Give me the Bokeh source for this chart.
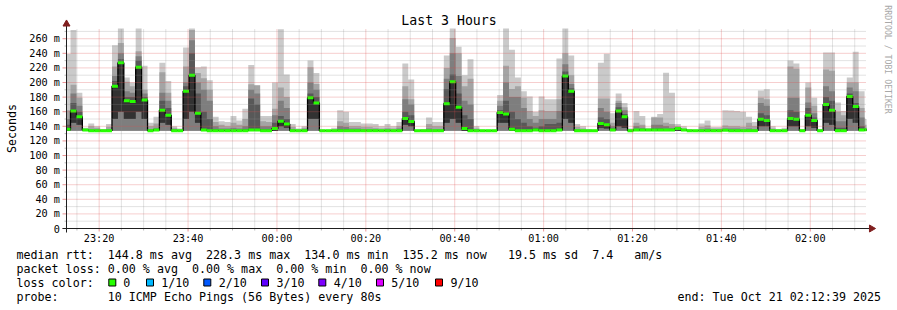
import math
import numpy as np
from bokeh.plotting import figure
from bokeh.models import Range1d
from bokeh.core.properties import value
from bokeh.embed import file_html
from bokeh.resources import INLINE

# ---------------------------------------------------------------- data
TITLE = "Last 3 Hours"
Y_UNIT_LABEL = "Seconds"
WATERMARK = "RRDTOOL / TOBI OETIKER"
STEP_SECONDS = 80
FIRST_STEP_START = "23:12:13"
VIEW_START = "23:12:39"
VIEW_END = "02:12:39"
Y_MAX_MS = 274
RTT_FLOOR_MS = 134.0

# median rtt per 80 s step (ms)
median_ms = [
    136, 161, 153, 135, 134, 134, 134, 134, 195, 227,
    175, 174, 221, 176, 134, 135, 162, 155, 134, 134,
    188, 210, 158, 135, 134, 134, 134, 134, 134, 134,
    134, 135, 135, 134, 134, 137, 147, 143, 134, 134,
    134, 179, 172, 134, 134, 134, 134, 134, 134, 134,
    134, 134, 134, 134, 134, 134, 134, 150.6, 146.5, 134,
    134, 134, 134, 134, 171, 201, 166, 137, 134, 134,
    134, 134, 134, 159, 157, 136, 134, 134, 134, 135,
    134, 134, 134, 135, 209, 188, 134, 134, 134, 134,
    144, 142, 135, 161, 153, 134, 135, 135, 135, 135,
    135, 135, 135, 137, 135, 134, 134, 134, 134, 134,
    134, 134.5, 134, 134, 134, 134, 134, 149.7, 148, 134,
    134, 134, 150.6, 149.7, 134, 155, 148, 134, 170, 162,
    134, 134, 180.7, 167, 135, 135.2]

# slowest ping per step (top of smoke)
ping_max_ms = [
    239, 272, 186, 138, 144, 140, 136, 143, 251, 274,
    207, 200, 274, 223, 145, 153, 227, 202, 140, 137,
    248, 274, 221, 222, 203, 153, 147, 146, 154, 148,
    164, 224, 196.5, 154, 154, 200, 273, 211, 143, 137,
    140, 230, 213, 135.5, 135.5, 138, 162, 160, 146, 146,
    144, 144, 143, 140, 143, 140, 146, 226, 204, 135.5,
    136, 152, 146, 146, 237, 274, 249, 210, 232, 140,
    135.5, 135.5, 135.5, 183, 274, 245, 207, 188, 181, 160,
    181, 177, 177, 233, 274, 237, 143, 140, 136, 135.5,
    227, 239.5, 158, 185, 172, 137, 161, 154, 138, 153,
    157, 213.5, 186, 143, 140, 136, 135.5, 144, 148, 139,
    139, 162, 161.5, 161, 160, 153, 146, 189, 190.7, 140,
    136, 138, 230, 226, 136, 200, 179, 136, 241, 241,
    172.5, 161, 206.7, 242, 188, 150]

# 9th of 10 sorted pings
ping_9_ms = [
    162, 197, 179, 137, 140, 138, 135.5, 139, 222, 254,
    201, 195, 243, 190, 140, 144, 214, 186, 138, 136,
    222, 272, 213, 206, 190, 146, 142, 140, 145, 142,
    150, 197.5, 196, 147, 146, 164, 193, 180, 139, 136,
    138, 221, 198, 135, 135, 136, 147, 145, 140, 140,
    139, 139, 138, 137, 138, 137, 140, 195, 177, 135,
    135.5, 143, 140, 140, 220, 261, 240, 195, 205, 137,
    135, 135, 135, 175, 223, 191, 195, 179, 161, 154,
    162, 161, 161, 177, 240, 210, 139, 137, 135.5, 135,
    178, 178, 145, 175, 166, 136, 145, 142, 136.5, 152,
    152, 145, 143, 140, 137, 135.5, 135, 139, 141, 137,
    137, 141, 140, 140, 139, 145, 140, 179, 177, 137,
    135.5, 136, 222, 219, 135.5, 193, 168, 135.5, 218, 216,
    160, 155, 200, 200, 165, 142]

# 8th of 10 sorted pings
ping_8_ms = [
    150, 185, 168, 136, 136, 136, 135, 136, 209, 240,
    188, 186, 236, 185, 136, 138, 186, 175, 136, 135,
    200, 258, 200, 190, 175, 140, 137, 137, 138, 137,
    140, 190, 185, 140, 140, 155, 175, 165, 136, 135,
    136, 200, 190, 134.5, 134.5, 135, 140, 139, 137, 137,
    136, 136, 136, 135, 136, 135, 137, 177, 170, 134.5,
    135, 137, 136, 136, 205, 240, 209, 175, 170, 136,
    134.5, 134.5, 134.5, 168, 200, 180, 180, 165, 150, 145,
    150, 150, 150, 161, 225, 198, 136, 135, 135, 134.5,
    165, 160, 140, 172, 162, 135, 140, 138, 135.5, 142,
    142, 140, 138, 138, 136, 135, 134.5, 136, 137, 135.5,
    135.5, 137, 137, 137, 136, 137, 136, 172, 168, 135.5,
    135, 135, 179, 179, 135, 172.5, 158, 135, 195, 188,
    147, 147, 193, 188, 152, 138]

# 7th of 10 sorted pings
ping_7_ms = [
    142, 172, 160, 135, 135, 135, 134.5, 135, 202, 232,
    180, 180, 230, 180, 135, 136, 175, 165, 135, 134.5,
    195, 240, 185, 160, 150, 136, 135, 135, 135, 135,
    136, 178, 170, 136, 136, 145, 154, 150, 135, 134.5,
    135, 185, 180, 134.3, 134.3, 134.5, 136, 136, 135, 135,
    135, 135, 135, 134.5, 135, 134.5, 135, 160, 155, 134.3,
    134.5, 135, 135, 135, 191, 211, 185, 155, 150, 135,
    134.3, 134.3, 134.3, 162, 175, 160, 150, 145, 140, 138,
    140, 143, 143, 145, 215, 192, 135, 134.5, 134.5, 134.3,
    152, 150, 137, 166, 157, 134.5, 136, 136, 135, 137,
    137, 136, 135.5, 137.5, 135.5, 134.5, 134.3, 135, 135, 134.5,
    134.5, 135, 135, 135, 135, 135, 135, 158, 155, 134.5,
    134.3, 134.5, 162, 160, 134.3, 165, 152, 134.3, 180, 175,
    138, 138, 185, 172, 140, 136]

# 3rd of 10 sorted pings
ping_3_ms = [
    134, 145, 142, 134, 134, 134, 134, 134, 150, 160,
    150, 150, 160, 150, 134, 134, 145, 142, 134, 134,
    150, 160, 145, 134, 134, 134, 134, 134, 134, 134,
    134, 134, 134, 134, 134, 134, 140, 138, 134, 134,
    134, 150, 150, 134, 134, 134, 134, 134, 134, 134,
    134, 134, 134, 134, 134, 134, 134, 142, 140, 134,
    134, 134, 134, 134, 145, 150, 145, 134, 134, 134,
    134, 134, 134, 145, 145, 134, 134, 134, 134, 134,
    134, 134, 134, 134, 150, 145, 134, 134, 134, 134,
    138, 137, 134, 140, 138, 134, 134, 134, 134, 134,
    134, 134, 134, 134, 134, 134, 134, 134, 134, 134,
    134, 134, 134, 134, 134, 134, 134, 140, 140, 134,
    134, 134, 140, 140, 134, 140, 138, 134, 145, 142,
    134, 134, 150, 145, 134, 134]

y_tick_values = [0, 20, 40, 60, 80, 100, 120, 140, 160, 180, 200, 220, 240, 260]
y_tick_labels = ["0", "20 m", "40 m", "60 m", "80 m", "100 m", "120 m", "140 m",
                 "160 m", "180 m", "200 m", "220 m", "240 m", "260 m"]
x_tick_times = ["23:20", "23:40", "00:00", "00:20", "00:40", "01:00", "01:20", "01:40", "02:00"]

legend_rows = [
    [(0, "median rtt:"), (13, "144.8 ms avg"), (27, "228.3 ms max"), (41, "134.0 ms min"),
     (55, "135.2 ms now"), (70, "19.5 ms sd"), (82, "7.4"), (88, "am/s")],
    [(0, "packet loss:"), (13, "0.00 % avg"), (25, "0.00 % max"), (37, "0.00 % min"),
     (49, "0.00 % now")],
    [(0, "loss color:")],
    [(0, "probe:"), (13, "10 ICMP Echo Pings (56 Bytes) every 80s")],
]
loss_names = ["0", "1/10", "2/10", "3/10", "4/10", "5/10", "9/10"]
loss_colors = ["#26ff00", "#00b8ff", "#0059ff", "#5e00ff", "#7e00ff", "#dd00ff", "#ff0000"]
END_TEXT = "end: Tue Oct 21 02:12:39 2025"

# ---------------------------------------------------------------- helpers
def minutes_after_23(hms):
    h, m, s = (int(v) for v in hms.split(":"))
    return ((h - 23) % 24) * 60 + m + s / 60.0


x0 = minutes_after_23(VIEW_START)
x1 = minutes_after_23(VIEW_END)

W, H = 897, 310
FL, FR, FT, FB = 66, 866, 28, 228          # graph area in pixels
KX = (x1 - x0) / (FR - FL)                 # minutes per pixel
KY = Y_MAX_MS / (FB - FT)                  # ms per pixel


def X(px):
    return x0 + (px - FL) * KX


def Y(py):
    return (FB - py) * KY


MONO = "DejaVu Sans Mono"
GRID = "#8f8f8f"
MGRID = "#de4f4f"
AXIS = "#1f1f1f"
ARROW = "#801f1f"

p = figure(width=W, height=H, title=None,
           x_range=Range1d(X(0), X(W)), y_range=Range1d(Y(H), Y(0)),
           x_axis_location=None, y_axis_location=None,
           output_backend="svg", toolbar_location=None,
           min_border_left=0, min_border_right=0, min_border_top=0, min_border_bottom=0,
           background_fill_color="white", border_fill_color="white",
           outline_line_color=None)
p.xgrid.visible = False
p.ygrid.visible = False

# ---------------------------------------------------------------- smoke
n = len(median_ms)
step_min = STEP_SECONDS / 60.0
edges = np.clip(minutes_after_23(FIRST_STEP_START) + step_min * np.arange(n + 1), x0, x1)


def ext(a):
    a = list(a)
    return a + [a[-1]]


floor = [RTT_FLOOR_MS] * n
bands = [
    (floor, ping_max_ms, "#cacaca"),
    (floor, ping_9_ms, "#a4a4a4"),
    (floor, ping_8_ms, "#7e7e7e"),
    (ping_3_ms, ping_7_ms, "#585858"),
    (ping_3_ms, median_ms, "#323232"),
]
for lo, hi, col in bands:
    p.varea_step(x=edges, y1=ext(lo), y2=ext(hi), step_mode="after",
                 fill_color=col, fill_alpha=1.0)

p.step(x=edges, y=ext(median_ms), mode="after", line_color="#000000", line_width=1.3)
p.segment(x0=edges[:-1], y0=median_ms, x1=edges[1:], y1=median_ms,
          line_color="#26ff00", line_width=3, line_cap="butt")

# ---------------------------------------------------------------- grid (drawn over the data)
x_major = [minutes_after_23(t + ":00") for t in x_tick_times]
x_minor = [m for m in range(15, 195, 5) if m not in x_major and x0 < m < x1]
y_minor = [v + 10 for v in y_tick_values]
y_major_lines = [v for v in y_tick_values if v > 0]

p.segment(x0=x_minor, x1=x_minor, y0=[0] * len(x_minor), y1=[Y_MAX_MS] * len(x_minor),
          line_color=GRID, line_alpha=0.5, line_dash="1 1", line_width=1)
p.segment(x0=[x0] * len(y_minor), x1=[x1] * len(y_minor), y0=y_minor, y1=y_minor,
          line_color=GRID, line_alpha=0.5, line_dash="1 1", line_width=1)
p.segment(x0=x_major, x1=x_major, y0=[0] * len(x_major), y1=[Y_MAX_MS] * len(x_major),
          line_color=MGRID, line_alpha=0.55, line_dash="1 1", line_width=1)
p.segment(x0=[x0] * len(y_major_lines), x1=[x1] * len(y_major_lines),
          y0=y_major_lines, y1=y_major_lines,
          line_color=MGRID, line_alpha=0.55, line_dash="1 1", line_width=1)

# small ticks outside the graph area
p.segment(x0=[X(62)] * len(y_tick_values), x1=[x0] * len(y_tick_values),
          y0=y_tick_values, y1=y_tick_values, line_color=MGRID, line_alpha=0.6, line_width=1)
p.segment(x0=[X(64)] * len(y_minor), x1=[x0] * len(y_minor),
          y0=y_minor, y1=y_minor, line_color=GRID, line_alpha=0.6, line_width=1)
p.segment(x0=x_major, x1=x_major, y0=[0] * len(x_major), y1=[Y(231)] * len(x_major),
          line_color=MGRID, line_alpha=0.6, line_width=1)
p.segment(x0=x_minor, x1=x_minor, y0=[0] * len(x_minor), y1=[Y(230)] * len(x_minor),
          line_color=GRID, line_alpha=0.6, line_width=1)

# axis lines with arrow heads
p.segment(x0=[X(62), x0], x1=[X(870), x0], y0=[0, Y(232)], y1=[0, Y(24)],
          line_color=AXIS, line_width=1)
p.scatter(x=[X(871)], y=[0], marker="triangle", size=7, angle=-math.pi / 2,
          fill_color=ARROW, line_color=ARROW)
p.scatter(x=[x0], y=[Y(23.5)], marker="triangle", size=7,
          fill_color=ARROW, line_color=ARROW)

# ---------------------------------------------------------------- texts
def put(xs, ys, texts, size, align="left", color="#000000", angle=0.0):
    p.text(x=xs, y=ys, text=texts, text_font=value(MONO),
           text_font_size=value(f"{size}px"), text_align=align,
           text_baseline="middle", text_color=color, angle=angle)


# tick labels
put([X(59.5)] * len(y_tick_values), y_tick_values, y_tick_labels, 10.2, align="right")
put(x_major, [Y(237.5)] * len(x_major), x_tick_times, 10.2, align="center")

put([X(448.5)], [Y(20)], [TITLE], 13.2, align="center")
put([X(11)], [Y(128)], [Y_UNIT_LABEL], 11.66, align="center", angle=math.pi / 2)
put([X(887.5)], [Y(59)], [WATERMARK], 8.2, align="center", color="#a8a8a8",
    angle=-math.pi / 2)

CH = 7.02
row_y = [254.3, 268.3, 282.3, 296.3]
lx, ly, lt = [], [], []
for r, items in enumerate(legend_rows):
    for col, s in items:
        lx.append(X(16 + col * CH))
        ly.append(Y(row_y[r]))
        lt.append(s)
put(lx, ly, lt, 11.66)
put([X(880.5)], [Y(row_y[3])], [END_TEXT], 11.66, align="right")

box_left = [108.3, 146.0, 203.3, 261.0, 318.3, 376.0, 435.0]
name_left = [122.7, 160.7, 218.3, 276.0, 333.3, 390.7, 450.0]
p.quad(left=[X(b) for b in box_left], right=[X(b + 7) for b in box_left],
       top=[Y(278.5)] * len(box_left), bottom=[Y(285.5)] * len(box_left),
       fill_color=loss_colors, line_color="#000000", line_width=1)
put([X(v) for v in name_left], [Y(row_y[2])] * len(name_left), loss_names, 11.66)

open("out.html", "w").write(file_html(p, INLINE))
